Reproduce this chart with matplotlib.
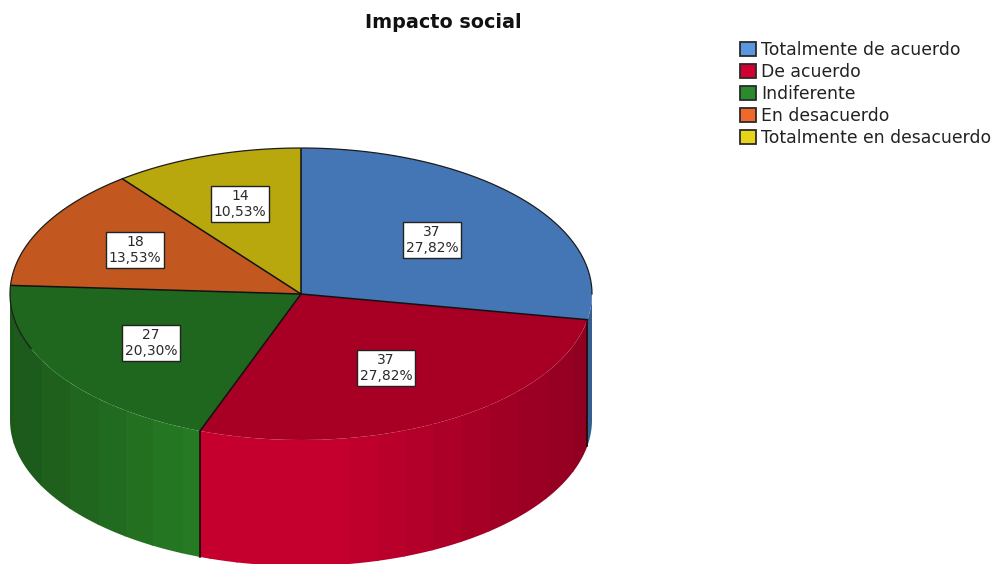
"""Impacto social: SPSS style 3D pie, drawn as a squashed pie plus a shaded wall."""
import numpy as np
import matplotlib
matplotlib.use("Agg")
import matplotlib.pyplot as plt
from matplotlib.collections import PolyCollection
from matplotlib.patches import Patch

categories = ["Totalmente de acuerdo", "De acuerdo", "Indiferente",
              "En desacuerdo", "Totalmente en desacuerdo"]
counts = [37, 37, 27, 18, 14]
percents = ["27,82%", "27,82%", "20,30%", "13,53%", "10,53%"]

TOP_COLORS = ["#4476b5", "#a80024", "#1f661e", "#c2581f", "#b8a80e"]
WALL_COLORS = ["#4a82c4", "#c6002e", "#267a24", "#c2581f", "#b8a80e"]
LEGEND_COLORS = ["#5b96e0", "#d00030", "#2b8a2b", "#f0682a", "#e6d31a"]
INK = "#2a2a2a"

# pie geometry in image pixels
W, H = 995, 564
CX, CY, RX, RY = 301, 294, 291, 146
DEPTH = 126
BAND = 28  # width of the wall's vertical shading bands
# label centres in image pixels
LABEL_XY = [(432, 240), (386, 368), (151, 343), (135, 250), (240, 204)]

fig = plt.figure(figsize=(W / 100, H / 100), dpi=100, facecolor="white")

# side wall, in pixel coordinates
wall = fig.add_axes([0, 0, 1, 1], zorder=0)
wall.set_xlim(0, W)
wall.set_ylim(H, 0)
wall.axis("off")

edges = np.cumsum(counts) / np.sum(counts) * 360
front = edges[(edges > 90) & (edges < 270)]
steps = np.unique(np.concatenate([np.arange(90, 270.5, 0.5), front]))


def arc(angles):
    t = np.radians(angles)
    return CX + RX * np.sin(t), CY - RY * np.cos(t)


# group the strips by slice and shading band so each band is one clean polygon
groups = {}
for a, b in zip(steps[:-1], steps[1:]):
    mx, _ = arc((a + b) / 2)
    key = (int(np.searchsorted(edges, (a + b) / 2)), int(round(mx / BAND)))
    groups.setdefault(key, []).extend([a, b])

polys, faces = [], []
for (slice_i, band_i), angles in groups.items():
    # a small overlap into the next band hides the seams
    angles = np.append(np.unique(angles), min(max(angles) + 0.4, 270))
    xs, ys = arc(angles)
    polys.append(np.column_stack([np.r_[xs, xs[::-1]], np.r_[ys, ys[::-1] + DEPTH]]))
    light = np.interp(band_i * BAND, [11, 190, 330, 592], [0.72, 1, 1, 0.72])
    faces.append(np.array(matplotlib.colors.to_rgb(WALL_COLORS[slice_i])) * light)
wall.add_collection(PolyCollection(polys, facecolors=faces, edgecolors="none", linewidths=0))

# vertical seams where a slice boundary faces the viewer
for e in front:
    x, y = arc(e)
    wall.plot([x, x], [y, y + DEPTH], color="#1a0a0a", lw=1.2, zorder=3)

# top face: a normal pie stretched into the ellipse
top = fig.add_axes([(CX - RX) / W, 1 - (CY + RY) / H, 2 * RX / W, 2 * RY / H], zorder=1)
top.pie(counts, colors=TOP_COLORS, startangle=90, counterclock=False, radius=1,
        wedgeprops={"linewidth": 0})
top.set_aspect("auto")
top.set_xlim(-1, 1)
top.set_ylim(-1, 1)
top.axis("off")

for e in edges:
    top.plot([0, np.sin(np.radians(e))], [0, np.cos(np.radians(e))], color="#111111", lw=1.1)
rim = np.radians(np.arange(248, 450.5, 0.5))
top.plot(np.sin(rim), np.cos(rim), color="#1c1c1c", lw=0.9, clip_on=False)

# value boxes
for (x, y), n, pct in zip(LABEL_XY, counts, percents):
    fig.text(x / W, 1 - y / H, f"{n}\n{pct}", ha="center", va="center", fontsize=10,
             color=INK, linespacing=1.12, zorder=5,
             bbox={"boxstyle": "square,pad=0.22", "fc": "white", "ec": "#222222", "lw": 1})

fig.text(443 / W, 1 - 22 / H, "Impacto social", ha="center", va="center",
         fontsize=13.8, fontweight="bold", color="#111111")

handles = [Patch(facecolor=c, edgecolor="#2a2a2a", linewidth=1.3) for c in LEGEND_COLORS]
fig.legend(handles, categories, loc="upper left", bbox_to_anchor=(740 / W, 1 - 41 / H),
           frameon=False, fontsize=12.4, borderpad=0, borderaxespad=0,
           handlelength=0.94, handleheight=0.94, handletextpad=0.3, labelspacing=0.23,
           labelcolor="#222222")

fig.savefig("out.png", dpi=100, facecolor="white")
